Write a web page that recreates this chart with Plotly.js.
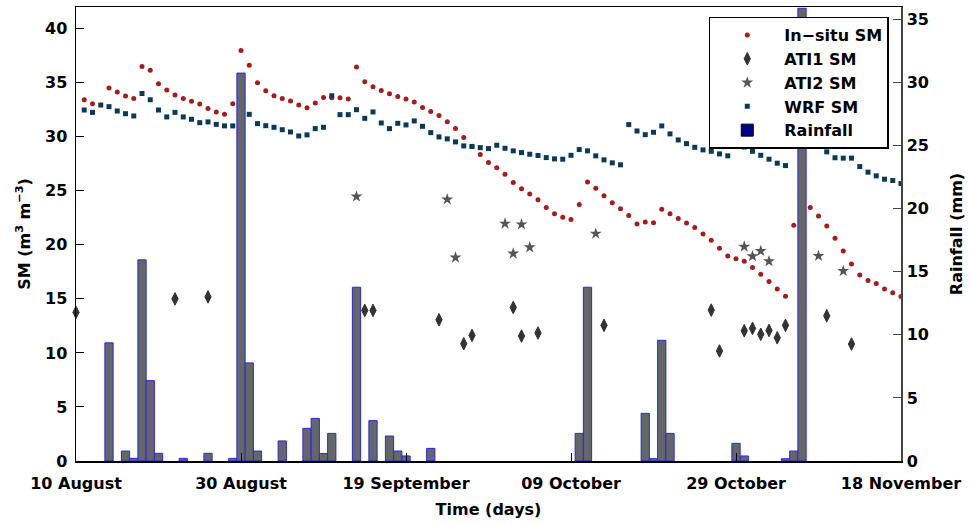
<!DOCTYPE html>
<html>
<head>
<meta charset="utf-8">
<script src="https://cdn.plot.ly/plotly-3.0.1.min.js"></script>
<style>html,body{margin:0;padding:0;background:#fff;}#chart{width:969px;height:523px;}</style>
</head>
<body>
<div id="chart"></div>
<script>
// Day offsets from 10 August
const tickDays = [0, 20, 40, 60, 80, 100];
const tickLabels = ['10 August', '30 August', '19 September', '09 October', '29 October', '18 November'];

const insituDays = [1,2,4,5,6,7,8,9,10,11,12,13,14,15,16,17,18,19,20,21,22,23,24,25,26,27,28,29,30,
  31,32,33,34,35,36,37,38,39,40,41,42,43,44,45,46,47,48,49,50,51,52,53,54,55,56,57,58,59,60,
  61,62,63,64,65,66,67,68,69,70,71,72,73,74,75,76,77,78,79,80,81,82,83,84,85,86,87,89,90,
  91,92,93,94,95,96,97,98,99,100];
const insituSM = [33.42,33.05,34.50,34.13,33.76,33.54,36.49,36.16,34.90,34.32,33.86,33.54,33.27,33.03,32.62,32.29,32.07,33.05,37.97,36.62,34.99,34.25,33.79,33.54,33.30,32.93,32.68,33.12,33.62,
  33.61,33.61,33.49,36.44,35.08,34.62,34.28,33.98,33.73,33.49,33.21,32.71,32.34,31.97,31.39,30.75,29.92,29.11,28.35,27.61,27.12,26.53,25.77,25.18,24.69,24.17,23.46,22.88,22.54,22.35,
  23.74,25.80,25.24,24.55,23.89,23.34,22.72,21.92,22.10,22.05,23.30,22.88,22.44,22.01,21.59,21.00,20.42,19.68,18.97,18.72,18.48,17.90,17.28,16.60,15.92,15.25,21.80,23.46,22.66,
  21.74,20.60,19.43,18.23,17.21,16.70,16.42,15.92,15.56,15.22];

const ati1Days = [0,12,16,35,36,44,47,48,53,54,56,64,77,78,81,82,83,84,85,86,91,94];
const ati1SM = [13.75,15.00,15.18,13.93,13.93,13.06,10.85,11.62,14.20,11.56,11.84,12.55,13.96,10.18,12.05,12.27,11.72,12.08,11.40,12.55,13.43,10.82];

const ati2Days = [34,45,46,52,53,54,55,63,81,82,83,84,90,93];
const ati2SM = [24.47,24.20,18.82,21.96,19.19,21.89,19.77,21.03,19.83,18.94,19.43,18.48,18.97,17.58];

const wrfDays = [1,2,3,4,5,6,7,8,9,10,11,12,13,14,15,16,17,18,19,21,22,23,24,25,26,27,28,29,30,
  31,32,33,34,35,36,37,38,39,40,41,42,43,44,45,46,47,48,49,50,51,52,53,54,55,56,57,58,59,60,
  61,62,63,64,65,66,67,68,69,70,71,72,73,74,75,76,77,78,79,81,82,83,84,85,86,90,
  91,92,93,94,95,96,97,98,99,100];
const wrfSM = [32.47,32.25,32.93,32.78,32.38,32.13,31.92,34.00,33.42,32.47,31.83,32.25,31.83,31.61,31.30,31.37,31.14,31.00,31.00,32.07,31.21,31.02,30.87,30.65,30.44,30.07,30.17,30.75,30.87,
  33.79,32.04,32.04,32.50,31.70,32.29,31.27,30.75,31.24,31.09,31.46,30.96,30.38,29.98,29.80,29.52,29.15,29.09,28.99,28.90,29.21,28.93,28.69,28.53,28.38,28.26,28.07,27.95,27.92,28.28,
  28.81,28.69,28.23,27.86,27.58,27.40,31.12,30.53,30.19,30.41,31.00,30.26,29.70,29.36,29.02,28.78,28.65,28.41,28.23,29.05,28.65,28.28,27.92,27.55,27.33,29.11,
  28.60,28.05,28.02,28.02,27.24,26.72,26.38,26.07,25.95,25.67];

const rainDays = [4,6,7,8,9,10,13,16,19,20,21,22,25,28,29,30,31,34,36,38,39,40,43,61,62,69,70,71,72,80,81,86,87,88];
const rainMM = [9.37,0.79,0.21,15.95,6.37,0.61,0.21,0.61,0.21,30.76,7.78,0.79,1.59,2.59,3.38,0.60,2.19,13.78,3.20,1.98,0.79,0.40,1.00,2.19,13.78,3.78,0.18,9.57,2.19,1.40,0.40,0.18,0.79,35.9];

const F = {family: 'DejaVu Sans, sans-serif', size: 16, color: '#000', weight: 'bold'};

const traces = [
  {type: 'scatter', mode: 'markers', name: 'In\u2212situ SM', x: insituDays, y: insituSM, yaxis: 'y',
   marker: {symbol: 'circle', size: 5, color: '#a31d1f'}, legendrank: 1},
  {type: 'scatter', mode: 'markers', name: 'ATI1 SM', x: ati1Days, y: ati1SM, yaxis: 'y', cliponaxis: false,
   marker: {symbol: 'diamond-tall', size: 9, color: '#333333', line: {color: '#333333', width: 1}}, legendrank: 2},
  {type: 'scatter', mode: 'markers', name: 'ATI2 SM', x: ati2Days, y: ati2SM, yaxis: 'y',
   marker: {symbol: 'star', size: 9, color: '#555555'}, legendrank: 3},
  {type: 'scatter', mode: 'markers', name: 'WRF SM', x: wrfDays, y: wrfSM, yaxis: 'y',
   marker: {symbol: 'square', size: 5, color: '#0a3a55'}, legendrank: 4},
  {type: 'bar', name: 'Rainfall', x: rainDays, y: rainMM, yaxis: 'y2', width: 1, showlegend: false,
   marker: {color: '#666666', line: {color: '#2626ee', width: 1}}},
  {type: 'bar', name: 'Rainfall', x: [null], y: [null], yaxis: 'y2', legendrank: 5,
   marker: {color: '#00008f', line: {color: '#000', width: 1}}}
];

const layout = {
  width: 969, height: 523,
  margin: {l: 76, r: 68, t: 7, b: 62},
  paper_bgcolor: '#fff', plot_bgcolor: '#fff',
  font: F,
  showlegend: true,
  bargap: 0,
  barmode: 'overlay',
  xaxis: {
    range: [0, 100], tickvals: tickDays, ticktext: tickLabels,
    showgrid: false, zeroline: false, showline: true, mirror: true,
    linecolor: '#000', linewidth: 1.5, ticks: 'inside', ticklen: 8, tickcolor: '#000', tickwidth: 1,
    tickfont: F, ticklabelstandoff: 7,
    title: {text: 'Time (days)', font: F, standoff: 12}
  },
  yaxis: {
    range: [0, 42], tickvals: [0,5,10,15,20,25,30,35,40],
    showgrid: false, zeroline: false, showline: true, linecolor: '#000', linewidth: 1.5,
    ticks: 'inside', ticklen: 8, tickcolor: '#000', tickwidth: 1,
    tickfont: F, ticklabelstandoff: 4,
    title: {text: 'SM (m<sup>3</sup> m<sup>\u22123</sup>)', font: F, standoff: 10}
  },
  yaxis2: {
    overlaying: 'y', side: 'right', range: [0, 36], tickvals: [0,5,10,15,20,25,30,35],
    showgrid: false, zeroline: false, showline: true, linecolor: '#444', linewidth: 1.5,
    ticks: 'inside', ticklen: 8, tickcolor: '#444', tickwidth: 1,
    tickfont: F, ticklabelstandoff: 1,
    title: {text: 'Rainfall (mm)', font: F, standoff: 23}
  },
  legend: {
    x: 0.767, y: 0.979, xanchor: 'left', yanchor: 'top',
    bgcolor: '#fff', bordercolor: '#000', borderwidth: 1.5,
    font: F, itemwidth: 64, tracegroupgap: 0, traceorder: 'normal'
  }
};

Plotly.newPlot('chart', traces, layout, {displayModeBar: false, staticPlot: true});
</script>
</body>
</html>
